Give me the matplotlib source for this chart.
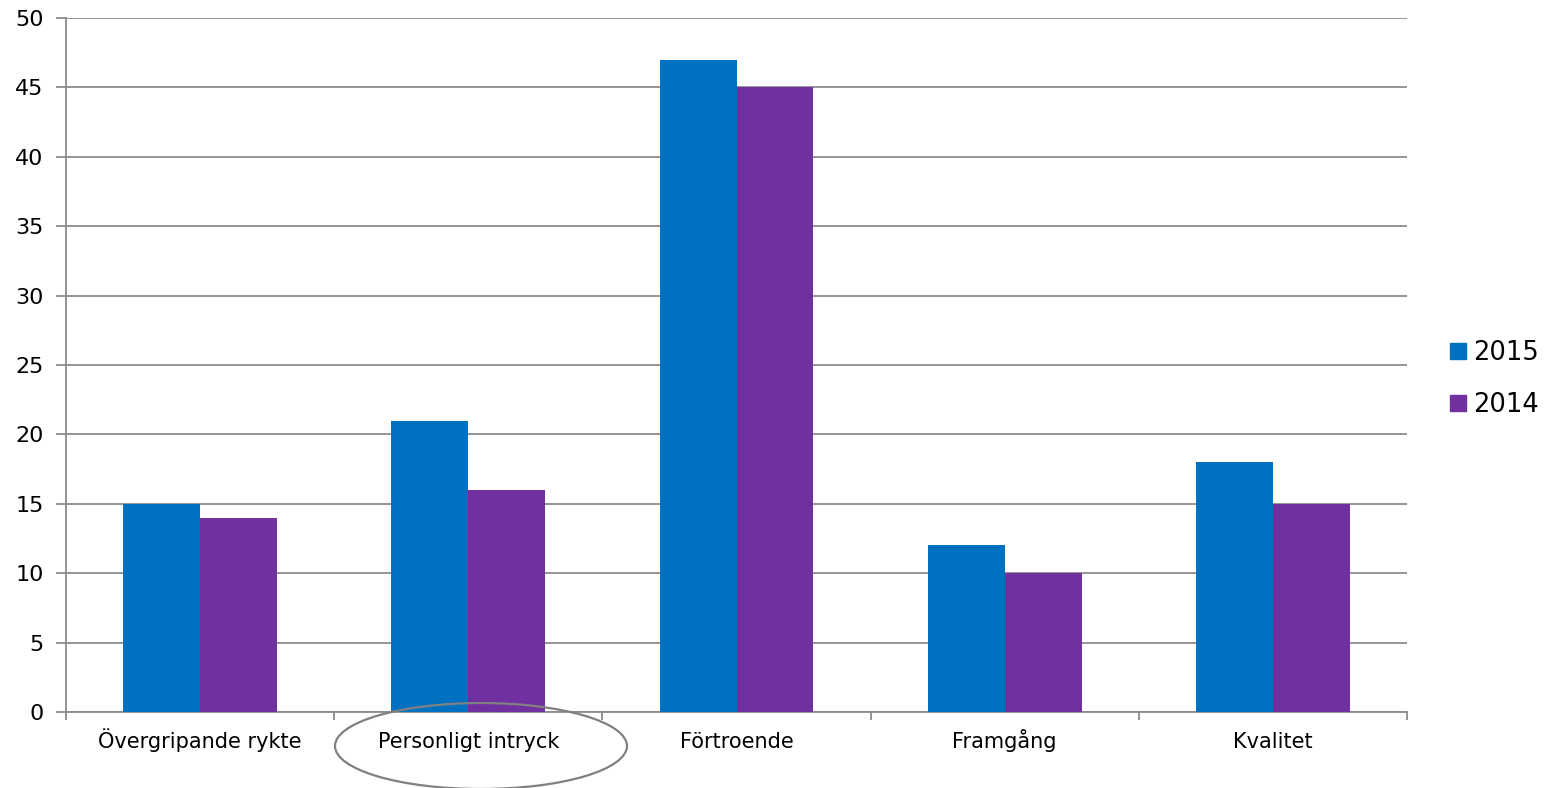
import matplotlib
matplotlib.use("Agg")
import matplotlib.pyplot as plt
import numpy as np
from matplotlib.patches import Ellipse, Patch

categories = ["Övergripande rykte", "Personligt intryck", "Förtroende", "Framgång", "Kvalitet"]
values_2015 = [15, 21, 47, 12, 18]
values_2014 = [14, 16, 45, 10, 15]
series_labels = ["2015", "2014"]
colors = ["#0070C0", "#7030A0"]
yticks = list(range(0, 51, 5))

plt.rcParams['font.family'] = ['DejaVu Sans']

fig = plt.figure(figsize=(15.52, 7.88), dpi=100)
ax = fig.add_axes([66/1552, 76/788, (1407-66)/1552, (712-18)/788])

x = np.arange(len(categories))
w = 0.287
ax.bar(x - w/2, values_2015, width=w, color=colors[0], zorder=3)
ax.bar(x + w/2, values_2014, width=w, color=colors[1], zorder=3)

ax.set_xlim(-0.5, len(categories) - 0.5)
ax.set_ylim(0, 50)
ax.set_yticks(yticks)
ax.set_yticklabels([str(v) for v in yticks], fontsize=16)
ax.yaxis.grid(True, color="#8c8c8c", linewidth=1.3, zorder=0)
ax.set_axisbelow(True)

ax.set_xticks(x)
ax.set_xticklabels(categories, fontsize=15, va="baseline")
ax.tick_params(axis='x', length=0, pad=26)
ax.set_xticks(np.arange(-0.5, len(categories), 1), minor=True)
ax.tick_params(axis='x', which='minor', length=6, width=1.3, color="#8c8c8c")
ax.tick_params(axis='y', length=7, width=1.3, color="#8c8c8c", pad=9)

for s in ["top", "right"]:
    ax.spines[s].set_visible(False)
for s in ["left", "bottom"]:
    ax.spines[s].set_color("#8c8c8c")
    ax.spines[s].set_linewidth(1.3)

handles = [Patch(color=c) for c in colors]
fig.legend(handles, series_labels, loc="center left", bbox_to_anchor=(1427/1552, (788-379)/788),
           frameon=False, fontsize=18.5, handlelength=0.6, handleheight=0.6,
           handletextpad=0.3, labelspacing=1.0)

ell = Ellipse((481/1552, (788-746)/788), 292/1552, 86/788, transform=fig.transFigure,
              fill=False, edgecolor="#808080", linewidth=1.6)
fig.patches.append(ell)

fig.savefig("out.png", dpi=100)
